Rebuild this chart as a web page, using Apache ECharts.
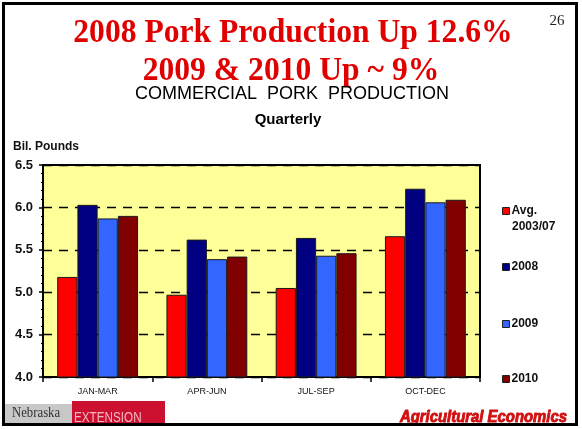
<!DOCTYPE html>
<html>
<head>
<meta charset="utf-8">
<script src="https://cdn.jsdelivr.net/npm/echarts@6/dist/echarts.min.js"></script>
<style>
  html, body { margin: 0; padding: 0; background: #ffffff; }
  #chart { width: 582px; height: 429px; }
</style>
</head>
<body>
<div id="chart"></div>
<script>
// Quarterly commercial pork production, billion pounds
const quarters = ['JAN-MAR', 'APR-JUN', 'JUL-SEP', 'OCT-DEC'];
const seriesNames = ['Avg. 2003/07', '2008', '2009', '2010'];
const avg0307 = [5.18, 4.97, 5.05, 5.66];
const y2008 = [6.03, 5.62, 5.64, 6.22];
const y2009 = [5.87, 5.39, 5.43, 6.06];
const y2010 = [5.90, 5.42, 5.46, 6.09];
const yTicks = [4.0, 4.5, 5.0, 5.5, 6.0, 6.5];

const seriesValues = [avg0307, y2008, y2009, y2010];
const colors = ['#ff0000', '#000080', '#3366ff', '#800000'];
const legendTops = [200, 256, 313, 368];

const chart = echarts.init(document.getElementById('chart'), null, { renderer: 'canvas' });

const series = seriesNames.map((name, i) => ({
  name: name,
  type: 'bar',
  data: seriesValues[i],
  barGap: '0%',
  barCategoryGap: '26%',
  itemStyle: { color: colors[i], borderColor: '#1a1a1a', borderWidth: 1 }
}));

// one legend block per series so each entry sits at its own height
const legends = seriesNames.map((name, i) => ({
  data: [name],
  left: 497,
  top: legendTops[i],
  icon: 'rect',
  itemWidth: 7,
  itemHeight: 7,
  itemGap: 0,
  selectedMode: false,
  formatter: n => n.startsWith('Avg') ? 'Avg.' : n,
  itemStyle: { borderColor: '#222', borderWidth: 1 },
  textStyle: {
    fontFamily: 'Liberation Sans, Arial, sans-serif',
    fontWeight: 'bold',
    fontSize: 12,
    color: '#111',
    padding: [0, 0, 0, -3]
  }
}));

const centerX = 291;

const option = {
  backgroundColor: '#ffffff',
  animation: false,
  legend: legends,
  grid: {
    left: 43, right: 102, top: 165, bottom: 52,
    show: true,
    backgroundColor: '#ffff99',
    borderColor: '#000',
    borderWidth: 2
  },
  xAxis: {
    type: 'category',
    data: quarters,
    axisLine: { lineStyle: { color: '#000', width: 2 } },
    axisTick: { show: true, length: 5, lineStyle: { color: '#000', width: 1.5 } },
    axisLabel: {
      margin: 10,
      fontFamily: 'Liberation Sans, Arial, sans-serif',
      fontSize: 9,
      color: '#111'
    }
  },
  yAxis: {
    type: 'value',
    min: 4.0,
    max: 6.5,
    interval: 0.5,
    axisLine: { show: true, lineStyle: { color: '#000', width: 2 } },
    axisTick: { show: true, length: 4, lineStyle: { color: '#000', width: 1.5 } },
    minorTick: { show: true, splitNumber: 5, length: 2, lineStyle: { color: '#000' } },
    splitLine: { show: true, lineStyle: { color: '#000', width: 1.3, type: [9, 7] } },
    axisLabel: {
      margin: 10,
      fontFamily: 'Liberation Sans, Arial, sans-serif',
      fontWeight: 'bold',
      fontSize: 13,
      color: '#111',
      formatter: v => yTicks.includes(v) ? v.toFixed(1) : ''
    }
  },
  series: series,
  graphic: [
    // slide frame
    { type: 'rect', z: 10, shape: { x: 3.5, y: 3.5, width: 573, height: 421 },
      style: { fill: 'none', stroke: '#000', lineWidth: 3 } },
    // headline
    { type: 'text', x: centerX + 2, y: 50, scaleX: 0.93,
      style: { text: '2008 Pork Production Up 12.6%', textAlign: 'center', textVerticalAlign: 'bottom',
        font: 'bold 34px "Liberation Serif", "Times New Roman", serif', fill: '#e00000',
        shadowColor: 'rgba(0,0,0,0.35)', shadowOffsetX: 2, shadowOffsetY: 2, shadowBlur: 1 } },
    { type: 'text', x: centerX, y: 88, scaleX: 0.93,
      style: { text: '2009 & 2010 Up ~ 9%', textAlign: 'center', textVerticalAlign: 'bottom',
        font: 'bold 34px "Liberation Serif", "Times New Roman", serif', fill: '#e00000',
        shadowColor: 'rgba(0,0,0,0.35)', shadowOffsetX: 2, shadowOffsetY: 2, shadowBlur: 1 } },
    { type: 'text', x: centerX + 1, y: 94,
      style: { text: 'COMMERCIAL  PORK  PRODUCTION', textAlign: 'center', textVerticalAlign: 'middle',
        font: '18px "Liberation Sans", Arial, sans-serif', fill: '#000' } },
    { type: 'text', x: 288, y: 120,
      style: { text: 'Quarterly', textAlign: 'center', textVerticalAlign: 'middle',
        font: 'bold 15px "Liberation Sans", Arial, sans-serif', fill: '#000' } },
    { type: 'text', x: 557, y: 21,
      style: { text: '26', textAlign: 'center', textVerticalAlign: 'middle',
        font: '15px "Liberation Serif", "Times New Roman", serif', fill: '#222' } },
    { type: 'text', x: 13, y: 147,
      style: { text: 'Bil. Pounds', textAlign: 'left', textVerticalAlign: 'middle',
        font: 'bold 12px "Liberation Sans", Arial, sans-serif', fill: '#111' } },
    // second line of the first legend entry
    { type: 'text', x: 512, y: 227,
      style: { text: '2003/07', textAlign: 'left', textVerticalAlign: 'middle',
        font: 'bold 12px "Liberation Sans", Arial, sans-serif', fill: '#111' } },
    // footer bands
    { type: 'rect', shape: { x: 5, y: 404, width: 67, height: 20 }, style: { fill: '#c8c8c8' } },
    { type: 'rect', shape: { x: 72, y: 401, width: 93, height: 23 }, style: { fill: '#cc1030' } },
    { type: 'text', x: 12, y: 413, scaleX: 0.85,
      style: { text: 'Nebraska', textAlign: 'left', textVerticalAlign: 'middle',
        font: '15px "Liberation Serif", "Times New Roman", serif', fill: '#333' } },
    { type: 'text', x: 74, y: 418, scaleX: 0.78,
      style: { text: 'EXTENSION', textAlign: 'left', textVerticalAlign: 'middle',
        font: '15px "Liberation Sans", Arial, sans-serif', fill: '#f4b8c4' } },
    { type: 'text', x: 567, y: 418, scaleX: 0.93,
      style: { text: 'Agricultural Economics', textAlign: 'right', textVerticalAlign: 'middle',
        font: 'italic bold 16px "Liberation Sans", Arial, sans-serif', fill: '#d01010',
        stroke: '#d01010', lineWidth: 0.9 } }
  ]
};

chart.setOption(option);
</script>
</body>
</html>
